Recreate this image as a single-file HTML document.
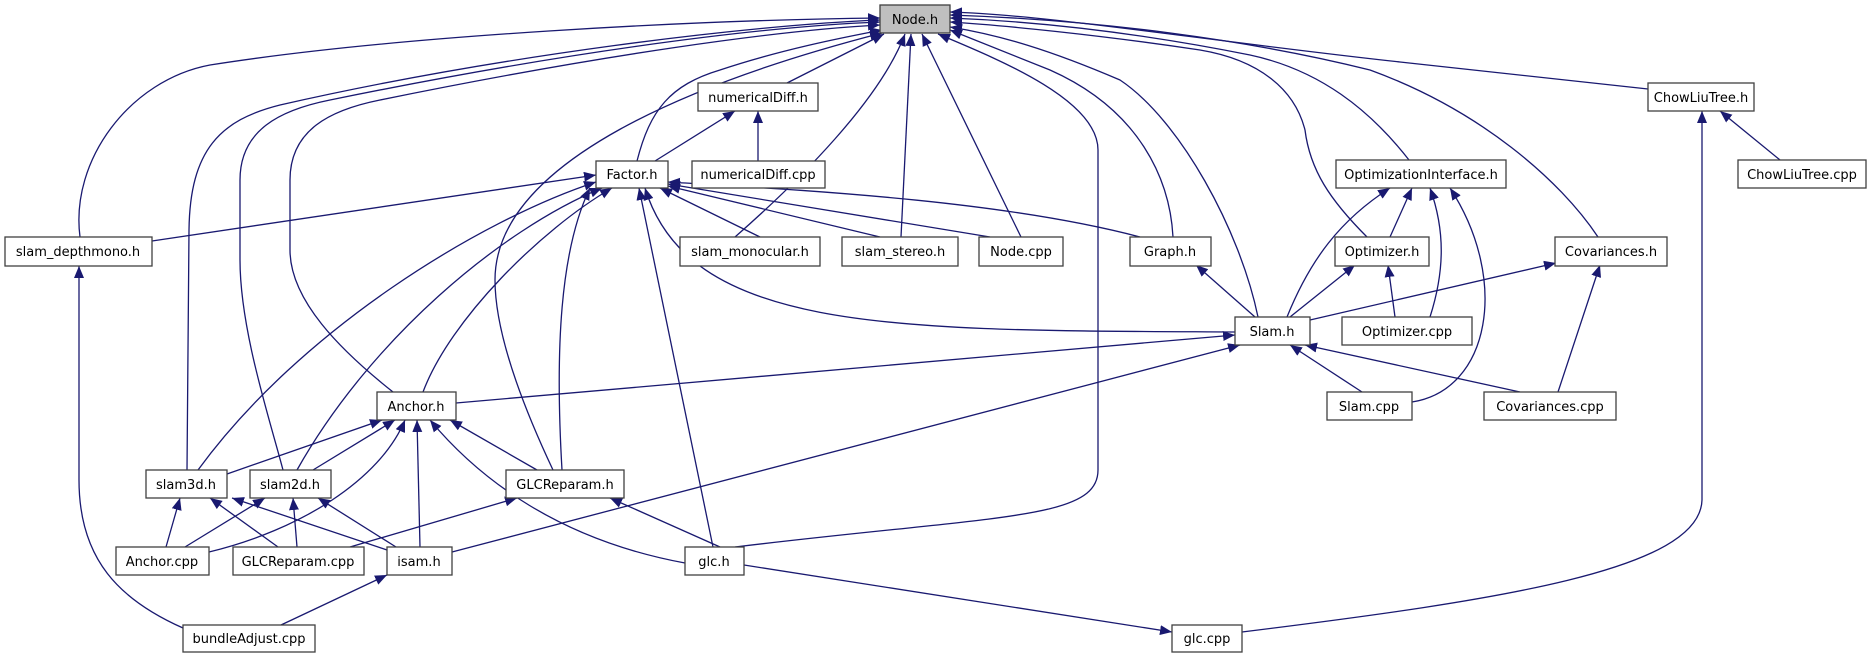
<!DOCTYPE html>
<html><head><meta charset="utf-8"><style>
html,body{margin:0;padding:0;background:#fff;}
svg{display:block;}
text{font-family:"DejaVu Sans","Liberation Sans",sans-serif;font-size:13px;fill:#000;}
.b{fill:#fff;stroke:#404040;stroke-width:1.3;}
.e{fill:none;stroke:#191970;stroke-width:1.3;marker-end:url(#a);}
</style></head><body>
<svg width="1872" height="659" viewBox="0 0 1872 659" xmlns="http://www.w3.org/2000/svg">
<defs><marker id="a" viewBox="0 0 12 10" refX="12" refY="5" markerWidth="12" markerHeight="10" markerUnits="userSpaceOnUse" orient="auto"><path d="M0,0L12,5L0,10z" fill="#191970"/></marker></defs>
<g>
<path class="e" d="M80,237 C70,160 130,80 210,65 C400,35 700,20 880,18"/>
<path class="e" d="M187,470 L189,230 C190,150 220,120 280,105 C500,55 750,25 880,20"/>
<path class="e" d="M283,470 C270,420 240,330 240,260 L240,180 C240,130 280,110 330,100 C550,55 750,27 880,22"/>
<path class="e" d="M393,392 C340,350 290,300 290,250 L290,180 C290,130 330,110 380,100 C600,55 780,30 880,25"/>
<path class="e" d="M553,470 C520,400 495,330 495,280 C495,160 700,80 882,33"/>
<path class="e" d="M637,161 C650,110 670,85 720,70 C780,50 840,38 882,30"/>
<path class="e" d="M787,83 L884,34"/>
<path class="e" d="M735,237 C800,180 880,100 905,34"/>
<path class="e" d="M901,237 L911,34"/>
<path class="e" d="M1021,237 L922,34"/>
<path class="e" d="M735,547 C1000,515 1098,520 1098,470 L1098,150 C1098,100 1000,60 938,34"/>
<path class="e" d="M1173,237 C1170,180 1140,110 1050,70 C1000,50 975,40 950,30"/>
<path class="e" d="M1258,317 C1240,230 1180,120 1120,80 C1050,50 1000,35 950,27"/>
<path class="e" d="M1367,237 C1330,200 1310,170 1305,130 C1295,90 1260,60 1200,50 C1100,35 1000,25 950,22"/>
<path class="e" d="M1409,160 C1370,110 1320,70 1250,55 C1150,35 1050,22 950,18"/>
<path class="e" d="M1598,237 C1560,180 1480,110 1370,70 C1250,40 1100,20 950,15"/>
<path class="e" d="M1648,89 L1400,62 C1200,40 1050,15 950,12"/>
<path class="e" d="M152,241 L596,175"/>
<path class="e" d="M198,470 C300,330 480,220 596,182"/>
<path class="e" d="M297,470 C370,340 500,230 602,188"/>
<path class="e" d="M423,392 C450,320 540,230 612,188"/>
<path class="e" d="M562,470 C555,350 560,250 590,188"/>
<path class="e" d="M713,547 L639,188"/>
<path class="e" d="M760,237 L660,188"/>
<path class="e" d="M880,237 L668,186"/>
<path class="e" d="M990,237 L668,184"/>
<path class="e" d="M1140,237 C1000,200 800,190 668,182"/>
<path class="e" d="M1235,332 C900,330 690,335 645,188"/>
<path class="e" d="M655,161 L735,111"/>
<path class="e" d="M758,161 L758,111"/>
<path class="e" d="M1780,160 L1720,111"/>
<path class="e" d="M1242,632 C1500,600 1700,570 1702,500 L1702,111"/>
<path class="e" d="M1287,317 C1310,260 1340,220 1390,188"/>
<path class="e" d="M1390,237 L1412,188"/>
<path class="e" d="M1430,317 C1445,270 1445,230 1430,188"/>
<path class="e" d="M1412,402 C1490,390 1510,280 1450,188"/>
<path class="e" d="M1290,317 L1355,265"/>
<path class="e" d="M1395,317 L1388,265"/>
<path class="e" d="M1255,317 L1196,265"/>
<path class="e" d="M1310,320 L1556,263"/>
<path class="e" d="M1558,392 L1600,265"/>
<path class="e" d="M183,628 C120,600 79,560 79,480 L79,266"/>
<path class="e" d="M456,403 L1235,335"/>
<path class="e" d="M1362,392 L1290,345"/>
<path class="e" d="M1520,392 L1305,345"/>
<path class="e" d="M452,552 L1240,345"/>
<path class="e" d="M227,474 L382,420"/>
<path class="e" d="M313,470 L395,420"/>
<path class="e" d="M209,552 C300,530 380,480 405,420"/>
<path class="e" d="M420,547 L417,420"/>
<path class="e" d="M685,563 C560,540 480,480 430,420"/>
<path class="e" d="M537,470 L450,420"/>
<path class="e" d="M166,547 L180,498"/>
<path class="e" d="M278,547 L210,498"/>
<path class="e" d="M387,550 L232,498"/>
<path class="e" d="M185,547 L265,498"/>
<path class="e" d="M297,547 L293,498"/>
<path class="e" d="M396,547 L318,498"/>
<path class="e" d="M350,547 L517,498"/>
<path class="e" d="M720,547 L610,498"/>
<path class="e" d="M281,625 L387,575"/>
<path class="e" d="M744,565 L1172,632"/>
</g>
<g text-anchor="middle">
<rect x="880" y="5" width="70" height="28" fill="#bfbfbf" stroke="#404040" stroke-width="1.3"/><text x="915" y="24">Node.h</text>
<rect class="b" x="698" y="83" width="120" height="28"/><text x="758" y="102">numericalDiff.h</text>
<rect class="b" x="1648" y="83" width="106" height="28"/><text x="1701" y="102">ChowLiuTree.h</text>
<rect class="b" x="596" y="161" width="72" height="27"/><text x="632" y="179">Factor.h</text>
<rect class="b" x="692" y="161" width="133" height="27"/><text x="758" y="179">numericalDiff.cpp</text>
<rect class="b" x="1336" y="160" width="170" height="28"/><text x="1421" y="179">OptimizationInterface.h</text>
<rect class="b" x="1738" y="160" width="128" height="28"/><text x="1802" y="179">ChowLiuTree.cpp</text>
<rect class="b" x="5" y="237" width="147" height="29"/><text x="78" y="256">slam_depthmono.h</text>
<rect class="b" x="680" y="237" width="140" height="29"/><text x="750" y="256">slam_monocular.h</text>
<rect class="b" x="842" y="237" width="116" height="29"/><text x="900" y="256">slam_stereo.h</text>
<rect class="b" x="979" y="237" width="84" height="29"/><text x="1021" y="256">Node.cpp</text>
<rect class="b" x="1130" y="237" width="81" height="29"/><text x="1170" y="256">Graph.h</text>
<rect class="b" x="1335" y="237" width="94" height="29"/><text x="1382" y="256">Optimizer.h</text>
<rect class="b" x="1555" y="237" width="112" height="29"/><text x="1611" y="256">Covariances.h</text>
<rect class="b" x="1235" y="317" width="75" height="28"/><text x="1272" y="336">Slam.h</text>
<rect class="b" x="1342" y="317" width="130" height="28"/><text x="1407" y="336">Optimizer.cpp</text>
<rect class="b" x="377" y="392" width="79" height="28"/><text x="416" y="411">Anchor.h</text>
<rect class="b" x="1327" y="392" width="85" height="28"/><text x="1369" y="411">Slam.cpp</text>
<rect class="b" x="1484" y="392" width="132" height="28"/><text x="1550" y="411">Covariances.cpp</text>
<rect class="b" x="146" y="470" width="81" height="28"/><text x="186" y="489">slam3d.h</text>
<rect class="b" x="250" y="470" width="81" height="28"/><text x="290" y="489">slam2d.h</text>
<rect class="b" x="506" y="470" width="118" height="28"/><text x="565" y="489">GLCReparam.h</text>
<rect class="b" x="116" y="547" width="93" height="28"/><text x="162" y="566">Anchor.cpp</text>
<rect class="b" x="233" y="547" width="131" height="28"/><text x="298" y="566">GLCReparam.cpp</text>
<rect class="b" x="387" y="547" width="65" height="28"/><text x="419" y="566">isam.h</text>
<rect class="b" x="685" y="547" width="59" height="28"/><text x="714" y="566">glc.h</text>
<rect class="b" x="183" y="625" width="132" height="27"/><text x="249" y="643">bundleAdjust.cpp</text>
<rect class="b" x="1172" y="625" width="70" height="27"/><text x="1207" y="643">glc.cpp</text>
</g>
</svg>
</body></html>
